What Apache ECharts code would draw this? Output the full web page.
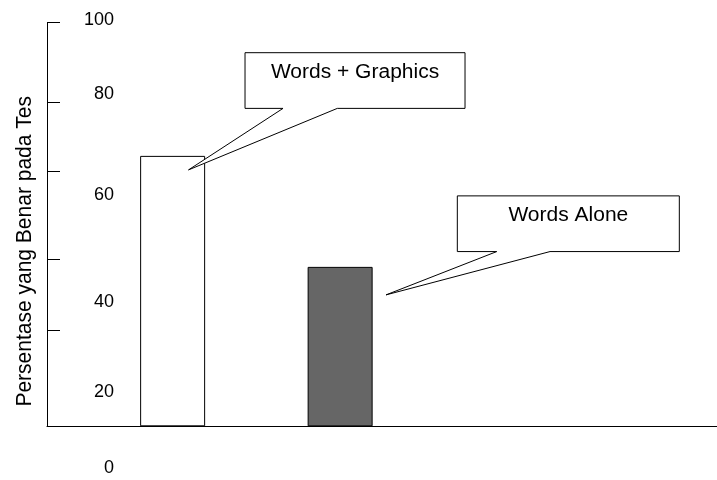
<!DOCTYPE html>
<html>
<head>
<meta charset="utf-8">
<script src="https://cdn.jsdelivr.net/npm/echarts@6/dist/echarts.min.js"></script>
<style>
  html, body { margin: 0; padding: 0; background: #fff; }
  #main { width: 717px; height: 480px; }
</style>
</head>
<body>
<div id="main"></div>
<script>
// Percentage of correct answers per condition
const categories = ['Words + Graphics', 'Words Alone'];
const values = [67, 39.5];
const barColors = ['#ffffff', '#666666'];

// The category axis is split into slots; bars sit in these slots
const slotCount = 8;
const barSlots = [1, 3];

// Tick marks and tick labels of the percentage axis
const tickValues = [23.7, 41.4, 63.3, 80.4, 100];
const tickLabels = ['100', '80', '60', '40', '20', '0'];
const tickLabelValues = [100.6, 82.2, 57.4, 30.8, 8.5, -10.3];

const axisTitle = 'Persentase yang Benar pada Tes';

// Callout balloons: box edges, wedge base and tip, as pixel offsets from the bar's top centre
const callouts = [
  { box: [72.4, -103.2, 292.4, -47.5], base: [110.4, 164.7], tip: [15.9, 14.0] },
  { box: [117.2, -71.0, 339.2, -15.3], base: [156.6, 209.9], tip: [45.9, 28.0] }
];

const FONT = '"Liberation Sans", Arial, Helvetica, sans-serif';

const chart = echarts.init(document.getElementById('main'), null, { renderer: 'canvas' });

const slots = Array.from({ length: slotCount }, () => '');
barSlots.forEach((s, i) => { slots[s] = categories[i]; });
const barData = slots.map(() => null);
barSlots.forEach((s, i) => {
  barData[s] = { value: values[i], itemStyle: { color: barColors[i] } };
});

function labelFor(v) {
  let best = 0;
  tickLabelValues.forEach((t, i) => {
    if (Math.abs(t - v) < Math.abs(tickLabelValues[best] - v)) best = i;
  });
  return tickLabels[best];
}

chart.setOption({
  animation: false,
  backgroundColor: '#fff',
  grid: [
    { left: 47, right: 0, top: 22.7, height: 403.6 },
    { left: 47, right: 0, top: 14.6, height: 460.1 }
  ],
  xAxis: [
    {
      type: 'category', gridIndex: 0, data: slots,
      axisLine: { show: true, lineStyle: { color: '#000', width: 1 } },
      axisTick: { show: false },
      axisLabel: { show: false },
      splitLine: { show: false }
    },
    { type: 'value', gridIndex: 1, show: false, min: 0, max: 1 }
  ],
  yAxis: [
    {
      type: 'value', gridIndex: 0, min: 0, max: 100,
      axisLine: { show: true, lineStyle: { color: '#000', width: 1 } },
      axisTick: { show: true, inside: true, length: 13, lineStyle: { color: '#000', width: 1 }, customValues: tickValues },
      axisLabel: { show: false },
      splitLine: { show: false }
    },
    {
      type: 'value', gridIndex: 1, min: -12, max: 102,
      axisLine: { show: false },
      axisTick: { show: false },
      splitLine: { show: false },
      axisLabel: {
        show: true, inside: true, margin: 67, align: 'right',
        fontSize: 18, fontFamily: FONT, color: '#000',
        customValues: tickLabelValues,
        formatter: (v) => labelFor(v)
      }
    }
  ],
  series: [{
    type: 'bar', xAxisIndex: 0, yAxisIndex: 0,
    data: barData, barWidth: 65, silent: true,
    itemStyle: { borderColor: '#000', borderWidth: 1 }
  }]
});

// Balloon callouts anchored to the bars, plus the rotated axis title
const graphics = [{
  type: 'text', x: 24.5, y: 251.3, rotation: Math.PI / 2, scaleY: 1.07,
  style: {
    text: axisTitle, font: '21px ' + FONT, fill: '#000',
    textAlign: 'center', textVerticalAlign: 'middle', align: 'center', verticalAlign: 'middle'
  }
}];

barSlots.forEach((s, i) => {
  const c = callouts[i];
  const a = chart.convertToPixel({ gridIndex: 0 }, [s, values[i]]);
  const L = a[0] + c.box[0], T = a[1] + c.box[1], R = a[0] + c.box[2], B = a[1] + c.box[3];
  const pts = [
    [L, T], [R, T], [R, B],
    [a[0] + c.base[1], B],
    [a[0] + c.tip[0], a[1] + c.tip[1]],
    [a[0] + c.base[0], B],
    [L, B]
  ];
  graphics.push({
    type: 'polygon', z: 10,
    shape: { points: pts },
    style: { fill: '#fff', stroke: '#000', lineWidth: 1 }
  });
  graphics.push({
    type: 'text', z: 11, x: (L + R) / 2, y: T + 20, scaleX: 1.05,
    style: {
      text: categories[i], font: '20px ' + FONT, fill: '#000',
      textAlign: 'center', textVerticalAlign: 'middle', align: 'center', verticalAlign: 'middle'
    }
  });
});

chart.setOption({ graphic: graphics });
</script>
</body>
</html>
